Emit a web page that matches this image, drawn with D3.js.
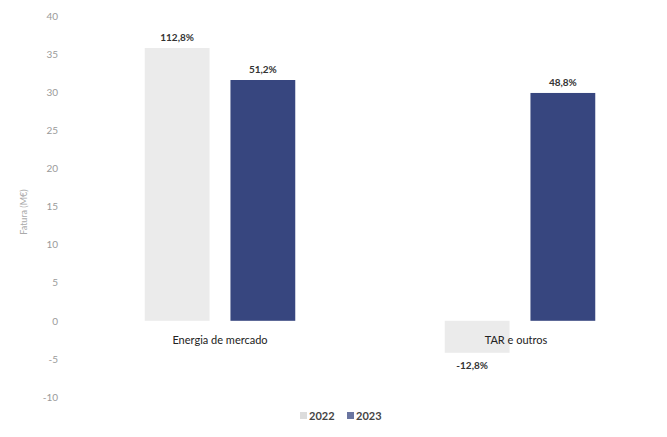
<!DOCTYPE html>
<html>
<head>
<meta charset="utf-8">
<script src="https://cdn.jsdelivr.net/npm/d3@7"></script>
<style>
  body { margin: 0; background: #fff; }
  svg { display: block; font-family: "Lato", "DejaVu Sans", sans-serif; }
</style>
</head>
<body>
<svg id="chart" width="667" height="437"></svg>
<script>
// data
const categories = ['Energia de mercado', 'TAR e outros'];
const years = ['2022', '2023'];
const values2022 = [35.8, -4.2];
const values2023 = [31.6, 29.9];
const labels2022 = ['112,8%', '-12,8%'];
const labels2023 = ['51,2%', '48,8%'];
const yTicks = [-10, -5, 0, 5, 10, 15, 20, 25, 30, 35, 40];

const colors = { '2022': '#ebebeb', '2023': '#37467f' };
const legendColors = { '2022': '#dcdcdc', '2023': '#6a75a0' };

const svg = d3.select('#chart');

const y = d3.scaleLinear().domain([-10, 40]).range([397, 16]);
const x0 = d3.scaleBand().domain(categories).range([70, 670]).padding(0);
const x1 = d3.scaleBand().domain(years).range([0, x0.bandwidth()])
  .paddingInner(0.244).paddingOuter(0.872);

// y axis, labels only (plain hyphen for negatives like the source)
const yAxis = d3.axisLeft(y).tickValues(yTicks).tickSize(0).tickPadding(0)
  .tickFormat(d => String(d));
const gy = svg.append('g').attr('transform', 'translate(58,0)').call(yAxis);
gy.select('.domain').remove();
gy.selectAll('text')
  .attr('fill', '#9a9a9a')
  .style('font-size', '10px')
  .style('font-family', '"Lato", "DejaVu Sans", sans-serif');

svg.append('text')
  .attr('transform', 'translate(27,212) rotate(-90)')
  .attr('text-anchor', 'middle')
  .attr('fill', '#aaa')
  .style('font-size', '9px')
  .text('Fatura (M€)');

const rows = categories.map((c, i) => ({
  cat: c,
  bars: [
    { year: '2022', v: values2022[i], label: labels2022[i] },
    { year: '2023', v: values2023[i], label: labels2023[i] }
  ]
}));

const groups = svg.append('g').selectAll('g')
  .data(rows).join('g')
  .attr('transform', d => `translate(${x0(d.cat)},0)`);

groups.selectAll('rect')
  .data(d => d.bars).join('rect')
  .attr('x', d => x1(d.year))
  .attr('width', x1.bandwidth())
  .attr('y', d => y(Math.max(0, d.v)))
  .attr('height', d => Math.abs(y(d.v) - y(0)))
  .attr('fill', d => colors[d.year]);

groups.selectAll('text.val')
  .data(d => d.bars).join('text')
  .attr('class', 'val')
  .attr('x', d => x1(d.year) + x1.bandwidth() / 2 + (d.v < 0 ? -5 : 0))
  .attr('y', d => d.v >= 0 ? y(d.v) - 7 : y(d.v) + 16)
  .attr('text-anchor', 'middle')
  .attr('fill', '#333')
  .style('font-size', '10px')
  .style('font-weight', 'bold')
  .text(d => d.label);

// category labels
svg.append('g').selectAll('text')
  .data(categories).join('text')
  .attr('x', d => x0(d) + x0.bandwidth() / 2 - (d === 'TAR e outros' ? 4 : 0))
  .attr('y', 344)
  .attr('text-anchor', 'middle')
  .attr('fill', '#222')
  .style('font-size', '11px')
  .text(d => d);

// legend
const legend = svg.append('g').attr('transform', 'translate(300,416)');
years.forEach((yr, i) => {
  const g = legend.append('g').attr('transform', `translate(${i * 47},0)`);
  g.append('rect').attr('x', 0).attr('y', -4).attr('width', 7).attr('height', 7)
    .attr('fill', legendColors[yr]);
  g.append('text').attr('x', 9).attr('y', 4)
    .attr('fill', '#444')
    .style('font-size', '11px')
    .style('font-weight', 'bold')
    .text(yr);
});
</script>
</body>
</html>
